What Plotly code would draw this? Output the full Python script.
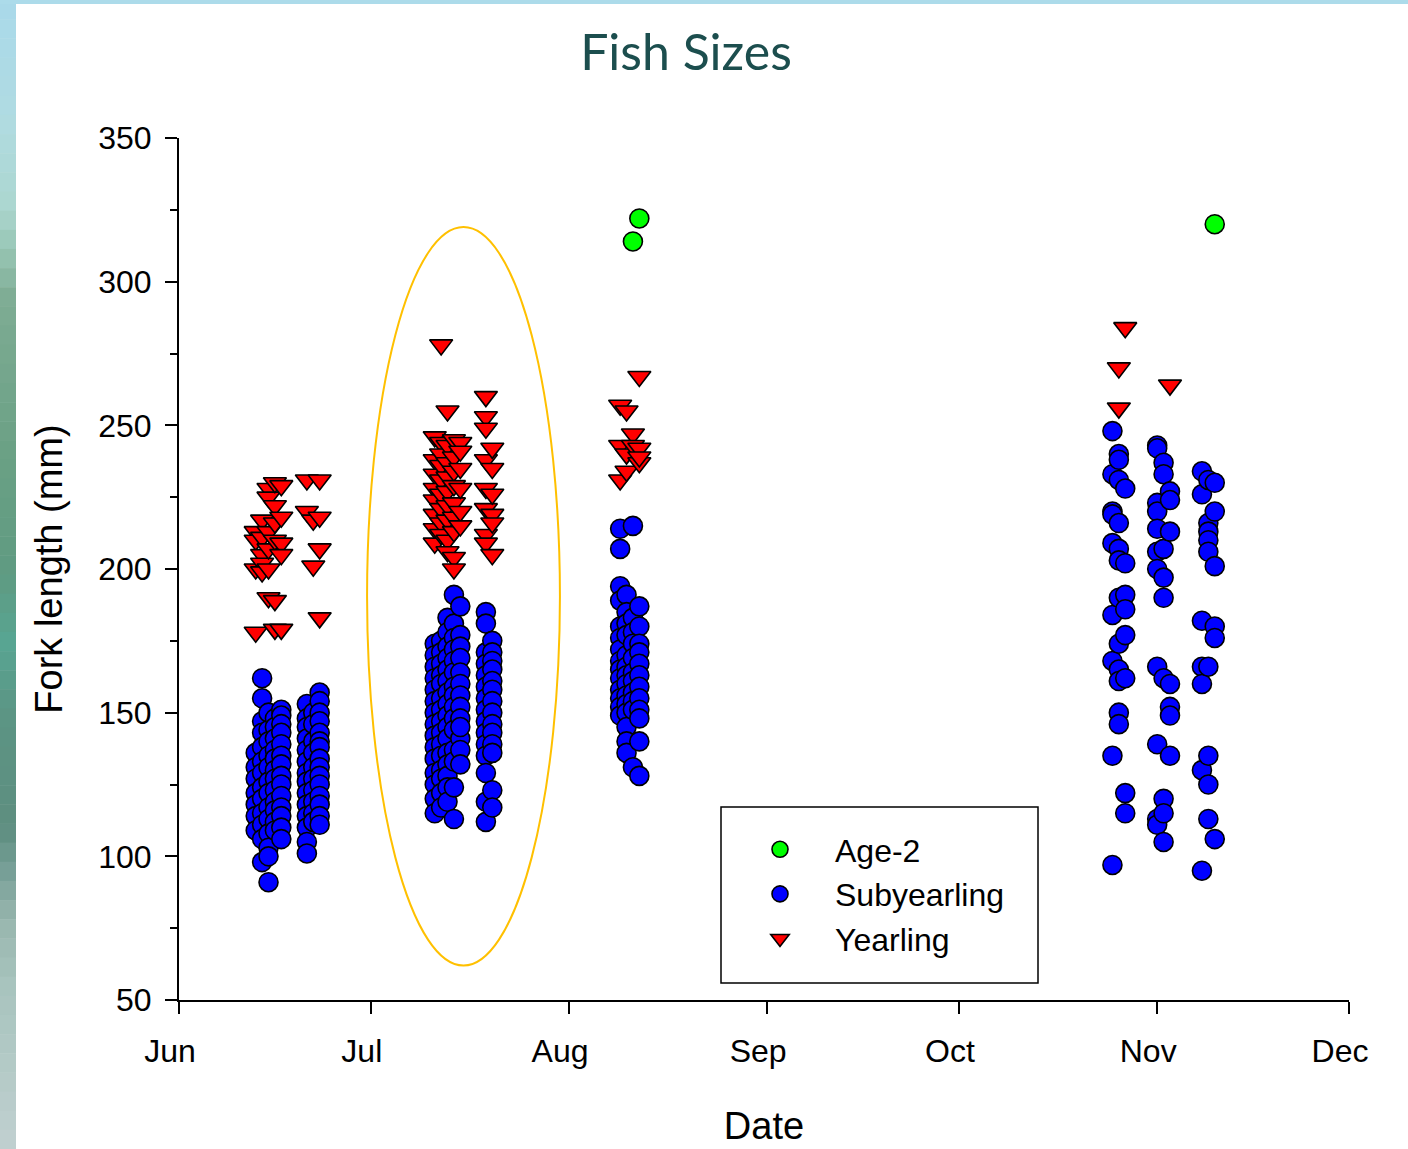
import plotly.graph_objects as go

# ---------------- data ----------------
age2_dates = ["2023-08-11", "2023-08-12", "2023-11-10"]
age2_lengths = [314, 322, 320]

yearling_dates = (
    ["2023-06-13"] * 4 + ["2023-06-14"] * 5 + ["2023-06-15"] * 6 + ["2023-06-16"] * 6 + ["2023-06-17"] * 5
    + ["2023-06-21"] * 2 + ["2023-06-22"] * 2 + ["2023-06-23"] * 4
    + ["2023-07-11"] * 8 + ["2023-07-12"] * 9 + ["2023-07-13"] * 9 + ["2023-07-14"] * 9 + ["2023-07-15"] * 6
    + ["2023-07-19"] * 8 + ["2023-07-20"] * 6
    + ["2023-08-09"] * 3 + ["2023-08-10"] * 3 + ["2023-08-11"] * 2 + ["2023-08-12"] * 4
    + ["2023-10-26"] * 2 + ["2023-10-27"] * 1 + ["2023-11-03"] * 1
)
yearling_lengths = (
    [213, 210, 200, 178]
    + [217, 211, 205, 202, 199]
    + [228, 225, 213, 207, 200, 190]
    + [230, 222, 216, 210, 189, 179]
    + [229, 218, 209, 205, 179]
    + [231, 220]
    + [217, 201]
    + [231, 218, 207, 183]
    + [246, 238, 233, 228, 224, 219, 214, 209]
    + [278, 244, 240, 236, 231, 226, 221, 216, 212]
    + [255, 243, 237, 232, 227, 222, 217, 210, 206]
    + [245, 239, 234, 229, 223, 218, 213, 204, 200]
    + [244, 241, 235, 228, 220, 215]
    + [260, 253, 249, 238, 228, 221, 212, 209]
    + [242, 235, 226, 219, 216, 205]
    + [257, 243, 231]
    + [255, 240, 234]
    + [247, 243]
    + [267, 242, 237, 239]
    + [270, 256]
    + [284]
    + [264]
)

sub_dates = (
    ["2023-06-13"] * 7 + ["2023-06-14"] * 13 + ["2023-06-15"] * 13 + ["2023-06-16"] * 12 + ["2023-06-17"] * 14
    + ["2023-06-21"] * 14 + ["2023-06-22"] * 10 + ["2023-06-23"] * 15
    + ["2023-07-11"] * 15 + ["2023-07-12"] * 15 + ["2023-07-13"] * 16 + ["2023-07-14"] * 15 + ["2023-07-15"] * 13
    + ["2023-07-19"] * 15 + ["2023-07-20"] * 14
    + ["2023-08-09"] * 14 + ["2023-08-10"] * 14 + ["2023-08-11"] * 11 + ["2023-08-12"] * 12
    + ["2023-10-25"] * 9 + ["2023-10-26"] * 12 + ["2023-10-27"] * 8
    + ["2023-11-01"] * 11 + ["2023-11-02"] * 9 + ["2023-11-03"] * 7
    + ["2023-11-08"] * 7 + ["2023-11-09"] * 9 + ["2023-11-10"] * 6
)
sub_lengths = (
    [136, 131, 127, 122, 118, 114, 109]
    + [162, 155, 147, 143, 138, 133, 129, 124, 120, 115, 111, 106, 98]
    + [150, 144, 140, 135, 131, 126, 122, 117, 113, 108, 103, 100, 91]
    + [148, 145, 141, 137, 134, 130, 127, 123, 119, 116, 112, 109]
    + [151, 149, 146, 143, 139, 135, 132, 128, 125, 121, 117, 114, 110, 106]
    + [153, 148, 145, 141, 137, 133, 129, 126, 122, 118, 114, 110, 105, 101]
    + [150, 146, 140, 136, 131, 127, 123, 119, 115, 112]
    + [157, 154, 150, 147, 143, 140, 138, 134, 131, 128, 125, 121, 118, 114, 111]
    + [174, 170, 166, 162, 158, 154, 150, 146, 142, 138, 134, 129, 125, 120, 115]
    + [175, 171, 167, 163, 160, 155, 151, 147, 143, 139, 135, 130, 127, 122, 117]
    + [183, 178, 173, 169, 165, 161, 157, 153, 149, 145, 141, 136, 132, 128, 124, 119]
    + [191, 181, 176, 172, 168, 164, 159, 156, 152, 148, 144, 137, 133, 124, 113]
    + [187, 177, 173, 169, 164, 160, 156, 152, 148, 141, 137, 132, 145]
    + [185, 181, 171, 167, 163, 159, 155, 151, 147, 143, 139, 135, 129, 119, 112]
    + [175, 171, 168, 165, 161, 158, 154, 150, 146, 143, 139, 136, 123, 117]
    + [214, 207, 194, 189, 180, 176, 172, 168, 165, 162, 158, 155, 152, 149]
    + [191, 185, 181, 177, 170, 166, 163, 160, 156, 153, 150, 145, 140, 136]
    + [215, 183, 178, 174, 169, 164, 161, 157, 154, 151, 131]
    + [187, 180, 174, 171, 167, 163, 159, 155, 151, 148, 140, 128]
    + [248, 233, 220, 219, 209, 184, 168, 135, 97]
    + [240, 238, 231, 216, 207, 203, 190, 174, 165, 161, 150, 146]
    + [228, 202, 191, 186, 177, 162, 122, 115]
    + [243, 242, 223, 220, 214, 206, 200, 166, 139, 113, 111]
    + [237, 233, 207, 197, 190, 162, 120, 115, 105]
    + [227, 224, 213, 160, 152, 149, 135]
    + [234, 226, 182, 166, 160, 130, 95]
    + [231, 216, 213, 210, 206, 166, 135, 125, 113]
    + [230, 220, 201, 180, 176, 106]
)

month_range = ["2023-06-01", "2023-12-01"]

# ---------------- layout geometry (pixels) ----------------
W, H = 1408, 1149
PL, PR, PT, PB = 179, 1349, 138, 1000


def px_x(p):
    return (p - PL) / (PR - PL)


def px_y(p):
    return (PB - p) / (PB - PT)


def hex_rgb(h):
    h = h.lstrip("#")
    return tuple(int(h[i:i + 2], 16) for i in (0, 2, 4))


TXT = "Liberation Sans, Arial, sans-serif"

fig = go.Figure()
fig.add_trace(go.Scatter(
    x=age2_dates, y=age2_lengths, mode="markers", name="Age-2",
    marker=dict(symbol="circle", size=19, color="#00ff00", line=dict(color="black", width=1.6)),
))
fig.add_trace(go.Scatter(
    x=sub_dates, y=sub_lengths, mode="markers", name="Subyearling",
    marker=dict(symbol="circle", size=19, color="#0000ff", line=dict(color="black", width=1.6)),
))
fig.add_trace(go.Scatter(
    x=yearling_dates, y=yearling_lengths, mode="markers", name="Yearling",
    marker=dict(symbol="triangle-down", size=20, color="#ff0000", line=dict(color="black", width=1.6)),
))

shapes = []
# decorative left strip: colour stops (fraction of page height, colour)
stops = [(0.00, "#a9d9ea"), (0.10, "#b0dbe2"), (0.18, "#acd7d0"), (0.22, "#96c4b2"),
         (0.26, "#7eac94"), (0.40, "#6aa084"), (0.50, "#5f9b82"), (0.56, "#58a592"),
         (0.62, "#5c9584"), (0.72, "#5e8e80"), (0.76, "#78a098"), (0.80, "#98b6ae"),
         (0.86, "#a8c4be"), (1.00, "#c0d0d0")]
nb = 60
for i in range(nb):
    f = (i + 0.5) / nb
    for (fa, ca), (fb, cb) in zip(stops[:-1], stops[1:]):
        if fa <= f <= fb:
            t = (f - fa) / (fb - fa)
            ra, rb = hex_rgb(ca), hex_rgb(cb)
            col = "rgb(%d,%d,%d)" % tuple(round(a + (b - a) * t) for a, b in zip(ra, rb))
            break
    y0 = H * i / nb
    y1 = H * (i + 1) / nb + 0.5
    shapes.append(dict(type="rect", xref="paper", yref="paper", layer="below",
                       x0=px_x(0), x1=px_x(16), y0=px_y(y1), y1=px_y(y0),
                       fillcolor=col, line=dict(width=0)))
shapes.append(dict(type="rect", xref="paper", yref="paper", layer="below",
                   x0=px_x(0), x1=px_x(W), y0=px_y(4), y1=px_y(0),
                   fillcolor="#acdbea", line=dict(width=0)))
# highlight ellipse
shapes.append(dict(type="circle", xref="x", yref="y",
                   x0="2023-06-30 10:00", x1="2023-07-30 14:00", y0=62, y1=319,
                   line=dict(color="#ffc000", width=2)))
# legend frame
shapes.append(dict(type="rect", xref="paper", yref="paper",
                   x0=px_x(721), x1=px_x(1038), y0=px_y(983), y1=px_y(807),
                   line=dict(color="black", width=1.5), fillcolor="rgba(0,0,0,0)"))

fig.update_layout(
    width=W, height=H,
    margin=dict(l=PL, r=W - PR, t=PT, b=H - PB),
    paper_bgcolor="white", plot_bgcolor="white",
    title=dict(text="Fish Sizes", x=686 / W, xanchor="center", xref="container",
               y=1 - 52 / H, yanchor="middle", yref="container",
               font=dict(family="Lato, Open Sans, sans-serif", size=50, color="#1c4e4e")),
    font=dict(family=TXT, color="black"),
    shapes=shapes,
    showlegend=True,
    legend=dict(x=px_x(725), y=px_y(822), xanchor="left", yanchor="top",
                bgcolor="rgba(0,0,0,0)", borderwidth=0,
                font=dict(family=TXT, size=32, color="black"),
                itemsizing="trace", itemwidth=100),
    xaxis=dict(
        type="date", range=month_range, dtick="M1", tick0="2023-06-01", tickformat="%b",
        showgrid=False, zeroline=False, showline=True, linecolor="black", linewidth=2,
        ticks="outside", ticklen=12, tickwidth=2, tickcolor="black", automargin=False,
        tickfont=dict(family=TXT, size=32, color="black"), ticklabelshift=-9,
        ticklabelstandoff=10,
        title=dict(text="Date", font=dict(family=TXT, size=38, color="black"), standoff=44),
    ),
    yaxis=dict(
        range=[50, 350], dtick=50, tick0=50, automargin=False,
        showgrid=False, zeroline=False, showline=True, linecolor="black", linewidth=2,
        ticks="outside", ticklen=12, tickwidth=2, tickcolor="black",
        minor=dict(dtick=25, ticks="outside", ticklen=7, tickwidth=2, tickcolor="black", showgrid=False),
        tickfont=dict(family=TXT, size=32, color="black"), ticklabelstandoff=7,
        title=dict(text="Fork length (mm)", font=dict(family=TXT, size=38, color="black"), standoff=24),
    ),
)

fig.write_html("out.html")
